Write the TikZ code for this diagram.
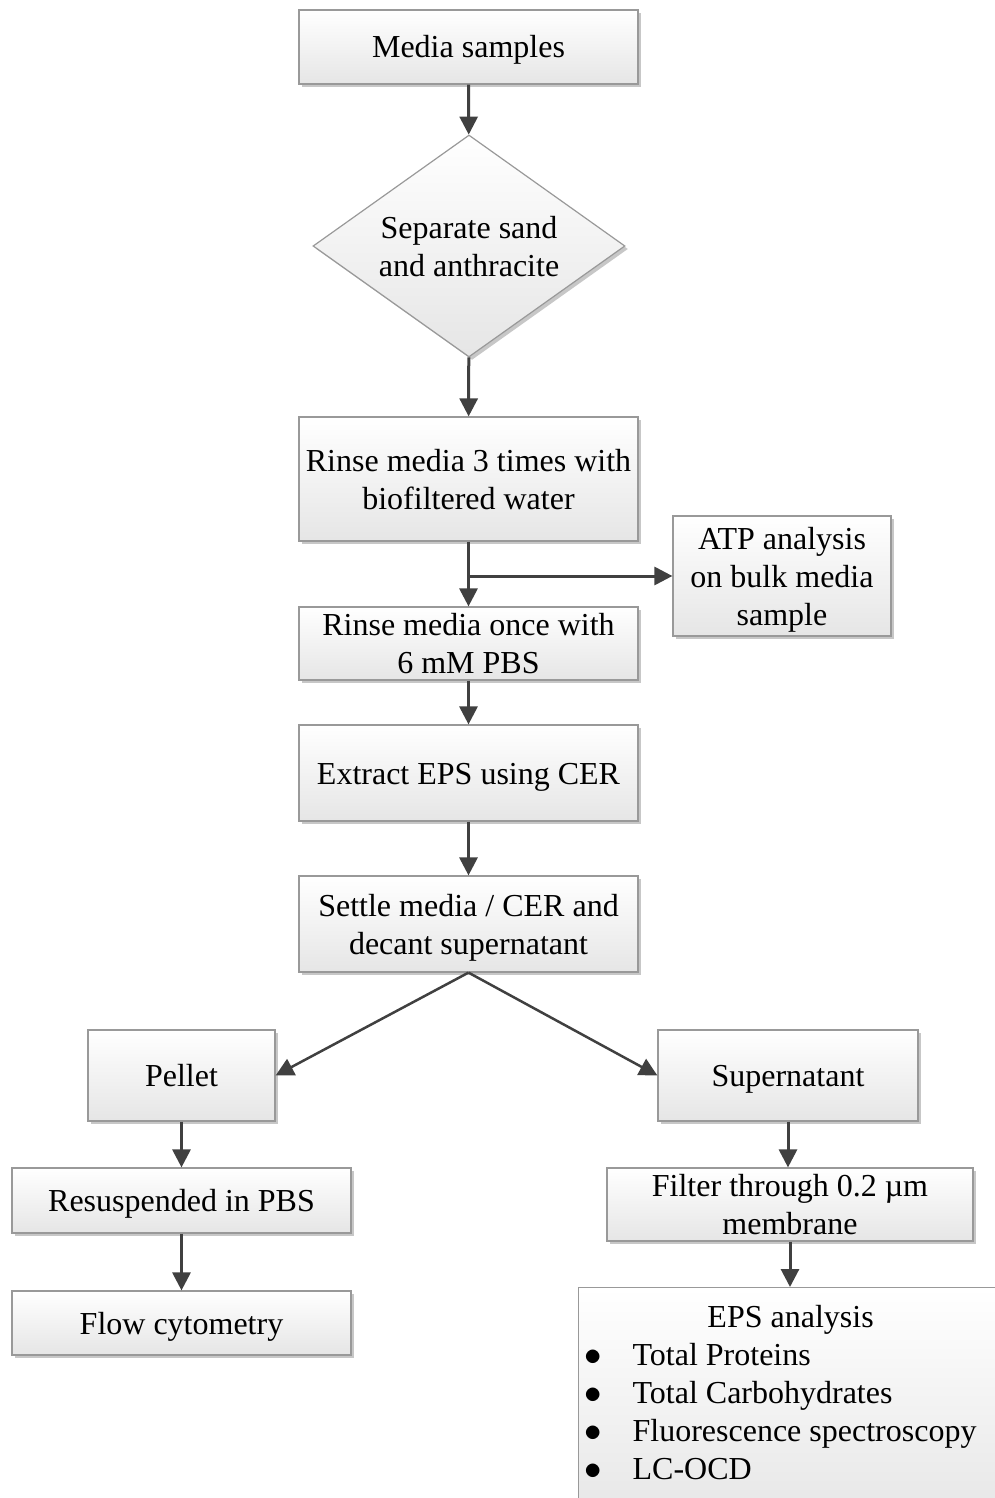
\documentclass[tikz,border=0pt]{standalone}
\usepackage{fontspec}
\usepackage{graphicx}
\setmainfont{Liberation Serif}
\usetikzlibrary{shapes.geometric,shadows,arrows.meta}
\newcommand{\bigbul}{\makebox[47pt][l]{\hspace*{-1pt}\scalebox{1.4}{$\bullet$}}}
\begin{document}
\begin{tikzpicture}[x=1pt,y=-1pt,
  box/.style={draw=black!40, line width=1.2pt, top color=white, bottom color=black!10,
    drop shadow={shadow xshift=3pt, shadow yshift=-3pt, fill=black!22, opacity=1},
    font=\fontsize{32pt}{38pt}\selectfont, align=center, inner sep=2pt, text depth=0pt},
  one/.style={text height=22pt},
  arr/.style={draw=black!75, line width=3pt, -{Triangle[length=18pt,width=18pt]}}
]
\useasboundingbox (0,0) rectangle (994,1498);
\node[box, one, minimum width=339pt, minimum height=74pt] (media) at (468.5,47) {Media samples};
\node[box, diamond, aspect=1.405, minimum width=312pt, minimum height=222pt, inner sep=0pt] (sep) at (469,246) {Separate sand\\and anthracite};
\node[box, minimum width=339pt, minimum height=124pt] (rinse3) at (468.5,479) {Rinse media 3 times with\\biofiltered water};
\node[box, minimum width=218pt, minimum height=120pt] (atp) at (782,576) {ATP analysis\\on bulk media\\sample};
\node[box, minimum width=339pt, minimum height=73pt] (rinse1) at (468.5,643.5) {Rinse media once with\\6 mM PBS};
\node[box, one, minimum width=339pt, minimum height=96pt] (extract) at (468.5,773) {Extract EPS using CER};
\node[box, minimum width=339pt, minimum height=96pt] (settle) at (468.5,924) {Settle media / CER and\\decant supernatant};
\node[box, one, minimum width=187pt, minimum height=91pt] (pellet) at (181.5,1075.5) {Pellet};
\node[box, one, minimum width=260pt, minimum height=91pt] (super) at (788,1075.5) {Supernatant};
\node[box, one, minimum width=339pt, minimum height=65pt] (resus) at (181.5,1200.5) {Resuspended in PBS};
\node[box, one, minimum width=339pt, minimum height=64pt] (flow) at (181.5,1323) {Flow cytometry};
\node[box, minimum width=366pt, minimum height=73pt] (filter) at (790,1204.5) {Filter through 0.2 µm\\membrane};
\node[box, anchor=north west, minimum width=430pt, minimum height=240pt, inner sep=0pt, align=left] (eps) at (578,1287)
  {\parbox[b][240pt][t]{416pt}{\rule{0pt}{40pt}\makebox[410pt]{EPS analysis}\\
   \bigbul Total Proteins\\
   \bigbul Total Carbohydrates\\
   \bigbul Fluorescence spectroscopy\\
   \bigbul LC-OCD}};

\draw[arr] (media) -- (sep);
\draw[arr] (sep) -- (rinse3);
\draw[arr] (rinse3) -- (rinse1);
\draw[arr] (rinse3.south |- atp.west) -- (atp.west);
\draw[arr] (rinse1) -- (extract);
\draw[arr] (extract) -- (settle);
\draw[arr, line width=2.5pt] (settle.south) -- (pellet.east);
\draw[arr, line width=2.5pt] (settle.south) -- (super.west);
\draw[arr] (pellet) -- (resus);
\draw[arr] (resus) -- (flow);
\draw[arr] (super.south) -- (super.south |- filter.north);
\draw[arr] (filter.south) -- (filter.south |- eps.north);
\end{tikzpicture}
\end{document}
